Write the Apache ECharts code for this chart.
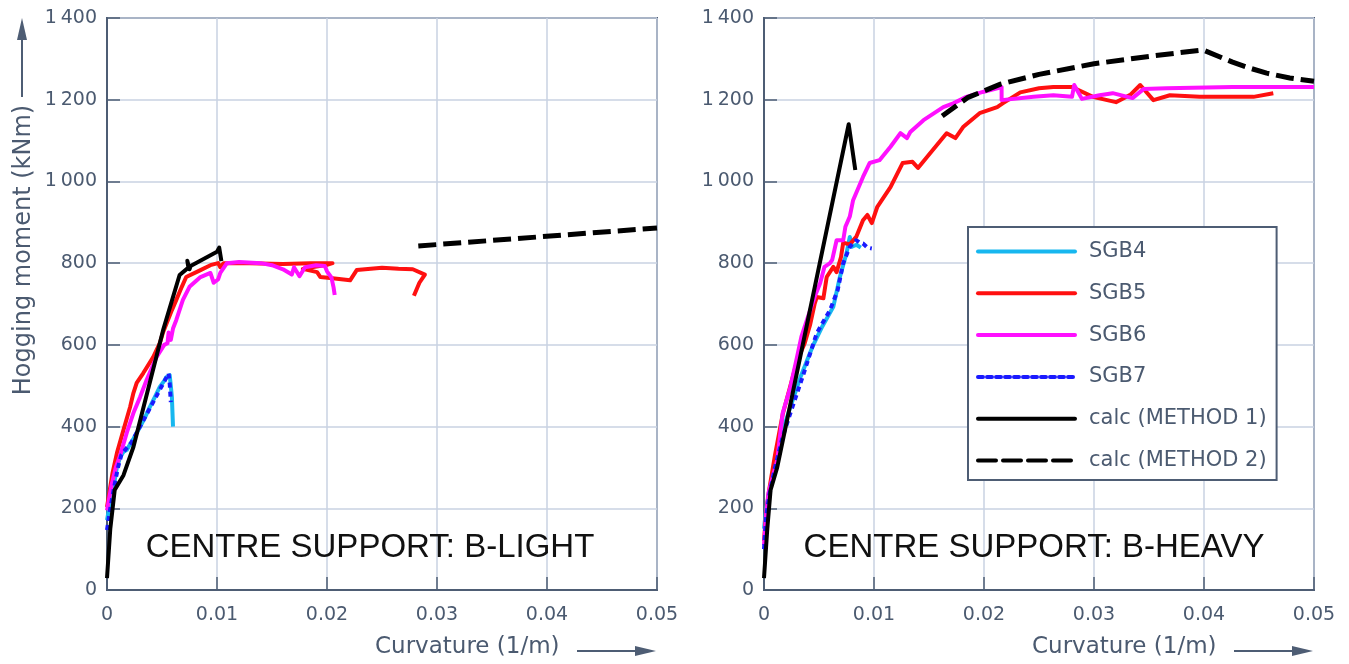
<!DOCTYPE html>
<html>
<head>
<meta charset="utf-8">
<title>Hogging moment vs curvature – centre support</title>
<script src="https://cdn.jsdelivr.net/npm/echarts@6/dist/echarts.min.js"></script>
<style>
  html, body { margin: 0; padding: 0; background: #fff; }
  #chart { width: 1349px; height: 664px; }
</style>
</head>
<body>
<div id="chart"></div>
<script>
// Tick values for both panels
const xTicks = [0, 0.01, 0.02, 0.03, 0.04, 0.05];
const yTicks = [0, 200, 400, 600, 800, 1000, 1200, 1400];

// Series names (legend order)
const seriesNames = ['SGB4', 'SGB5', 'SGB6', 'SGB7', 'calc (METHOD 1)', 'calc (METHOD 2)'];

// ---- Centre support B-LIGHT : [curvature (1/m), moment (kNm)] ----
const lightSGB4 = [[0,171],[0.0003,215],[0.0006,252],[0.0009,300],[0.0012,326],[0.0015,338],[0.0018,343],[0.0024,370],[0.003,399],[0.0035,425],[0.0039,448],[0.0044,475],[0.0048,497],[0.0052,512],[0.0054,521],[0.0057,526],[0.0058,500],[0.0059,472],[0.006,400]];
const lightSGB5 = [[0,203],[0.0005,286],[0.0009,335],[0.0015,392],[0.0021,448],[0.0024,482],[0.0027,507],[0.0033,531],[0.0042,570],[0.0048,604],[0.0051,631],[0.0059,685],[0.0063,710],[0.0068,742],[0.0072,766],[0.0085,783],[0.0094,795],[0.0101,800],[0.0103,790],[0.0106,800],[0.013,800],[0.016,798],[0.0185,800],[0.0205,800],[0.02,796],[0.0178,786],[0.0191,778],[0.0194,766],[0.0205,763],[0.0221,758],[0.0227,783],[0.025,789],[0.0265,786],[0.0278,785],[0.0289,772],[0.0284,752],[0.0279,720]];
const lightSGB6 = [[0,195],[0.0004,255],[0.0008,300],[0.0012,330],[0.0018,385],[0.0024,433],[0.003,472],[0.0036,514],[0.0045,570],[0.0052,600],[0.0055,604],[0.0056,630],[0.0058,612],[0.006,640],[0.0063,661],[0.0069,710],[0.0075,742],[0.0085,766],[0.0094,776],[0.0097,752],[0.0101,760],[0.0103,776],[0.0109,800],[0.012,803],[0.014,800],[0.015,795],[0.016,785],[0.0168,772],[0.017,790],[0.0175,768],[0.018,790],[0.019,795],[0.0198,793],[0.02,780],[0.0204,765],[0.0206,740],[0.0207,722]];
const lightSGB7 = [[0,147],[0.0003,200],[0.0006,245],[0.001,300],[0.0013,330],[0.0017,345],[0.0022,360],[0.0028,390],[0.0033,415],[0.0038,440],[0.0043,465],[0.0048,490],[0.0053,515],[0.0056,530],[0.0057,505],[0.0058,460]];
const lightCalc1 = [[0,29],[0.0003,150],[0.0007,245],[0.0015,281],[0.0024,350],[0.0051,636],[0.0066,771],[0.0074,789],[0.0073,806],[0.0075,785],[0.0076,793],[0.01,828],[0.0102,838],[0.0104,805]];
const lightCalc2 = [[0.0283,842],[0.05,886]];

// ---- Centre support B-HEAVY ----
const heavySGB4 = [[0,150],[0.0002,200],[0.0005,240],[0.001,310],[0.0017,390],[0.0024,448],[0.0033,520],[0.0044,595],[0.0053,645],[0.0063,693],[0.0069,766],[0.0075,824],[0.0078,864],[0.008,840],[0.0084,845],[0.0088,838]];
const heavySGB5 = [[0,120],[0.0002,190],[0.0005,250],[0.001,330],[0.0017,430],[0.0024,500],[0.003,560],[0.0037,604],[0.0042,650],[0.0046,700],[0.0048,717],[0.0054,714],[0.0057,766],[0.0063,791],[0.0066,778],[0.007,815],[0.0072,850],[0.0078,846],[0.0084,865],[0.009,905],[0.0094,918],[0.0098,898],[0.0103,938],[0.0115,986],[0.0126,1045],[0.0135,1048],[0.014,1033],[0.0151,1069],[0.0166,1118],[0.0174,1106],[0.0181,1133],[0.0196,1167],[0.0212,1182],[0.0217,1191],[0.0233,1218],[0.025,1228],[0.0263,1231],[0.028,1231],[0.0299,1207],[0.032,1194],[0.0333,1212],[0.0342,1236],[0.0354,1199],[0.0369,1211],[0.0396,1207],[0.0445,1207],[0.0463,1216]];
const heavySGB6 = [[0,110],[0.0002,185],[0.0004,237],[0.0012,318],[0.0017,433],[0.0024,497],[0.003,570],[0.0034,620],[0.0042,685],[0.0046,717],[0.0051,751],[0.0055,791],[0.006,800],[0.0062,808],[0.0066,856],[0.0072,856],[0.0074,889],[0.0078,914],[0.0081,954],[0.009,1011],[0.0096,1045],[0.0105,1052],[0.0115,1085],[0.0124,1118],[0.013,1106],[0.0133,1121],[0.0145,1150],[0.0163,1182],[0.0172,1191],[0.0184,1207],[0.0199,1219],[0.0212,1228],[0.0216,1231],[0.0216,1199],[0.0245,1207],[0.0263,1211],[0.028,1207],[0.0282,1236],[0.0289,1202],[0.0305,1211],[0.0317,1216],[0.0335,1204],[0.0345,1226],[0.0366,1228],[0.0426,1231],[0.05,1231]];
const heavySGB7 = [[0,100],[0.0002,180],[0.0005,235],[0.001,300],[0.0017,375],[0.0024,433],[0.0035,521],[0.0048,629],[0.006,685],[0.0067,734],[0.0072,800],[0.0078,840],[0.0084,856],[0.0087,850],[0.009,848],[0.0094,838],[0.0098,836]];
const heavyCalc1 = [[0,29],[0.0003,150],[0.0006,245],[0.0012,300],[0.0077,1140],[0.0083,1028]];
const heavyCalc2 = [[0.0162,1160],[0.0185,1205],[0.0215,1238],[0.025,1262],[0.03,1288],[0.035,1306],[0.0399,1322],[0.0426,1292],[0.0442,1277],[0.0457,1265],[0.0478,1253],[0.05,1245]];

const panelTitles = ['CENTRE SUPPORT: B-LIGHT', 'CENTRE SUPPORT: B-HEAVY'];

// Visual styles
const AXIS = '#4e5d74';
const GRIDLINE = '#c9d2e2';
const LABEL = '#4b5a70';
const styles = {
  'SGB4':            { color: '#17b7ef', width: 4, type: 'solid', z: 2 },
  'SGB5':            { color: '#ff1010', width: 4, type: 'solid', z: 3 },
  'SGB6':            { color: '#ff10ff', width: 4, type: 'solid', z: 4 },
  'SGB7':            { color: '#1a1aff', width: 4, type: [5, 4], z: 5 },
  'calc (METHOD 1)': { color: '#000000', width: 4, type: 'solid', z: 6 },
  'calc (METHOD 2)': { color: '#000000', width: 5, type: [18, 7], z: 6 }
};

const panels = [
  [lightSGB4, lightSGB5, lightSGB6, lightSGB7, lightCalc1, lightCalc2],
  [heavySGB4, heavySGB5, heavySGB6, heavySGB7, heavyCalc1, heavyCalc2]
];

const gridLefts = [107, 764];
const PLOT_TOP = 18, PLOT_W = 550, PLOT_H = 572;

function fmtY(v) {
  return v >= 1000 ? Math.floor(v / 1000) + '\u2009' + String(v % 1000).padStart(3, '0') : String(v);
}
function fmtX(v) {
  return String(+v.toFixed(2));
}

const grids = gridLefts.map(l => ({
  left: l, top: PLOT_TOP, width: PLOT_W, height: PLOT_H,
  show: true, borderColor: AXIS, borderWidth: 2, backgroundColor: '#fff'
}));

const xAxes = gridLefts.map((_, i) => ({
  type: 'value', gridIndex: i,
  min: xTicks[0], max: xTicks[xTicks.length - 1], interval: 0.01,
  axisLine: { show: true, lineStyle: { color: AXIS, width: 2 } },
  axisTick: { show: true, inside: true, length: 13, lineStyle: { color: AXIS, width: 1.5 } },
  splitLine: { show: true, lineStyle: { color: GRIDLINE, width: 1.5 } },
  axisLabel: { color: LABEL, fontSize: 19, fontFamily: 'DejaVu Sans', margin: 16, formatter: fmtX }
}));

const yAxes = gridLefts.map((_, i) => ({
  type: 'value', gridIndex: i,
  min: yTicks[0], max: yTicks[yTicks.length - 1], interval: 200,
  axisLine: { show: true, lineStyle: { color: AXIS, width: 2 } },
  axisTick: { show: true, inside: true, length: 13, lineStyle: { color: AXIS, width: 1.5 } },
  splitLine: { show: true, lineStyle: { color: GRIDLINE, width: 1.5 } },
  axisLabel: { color: LABEL, fontSize: 19, fontFamily: 'DejaVu Sans', margin: 10, formatter: fmtY }
}));

const series = [];
panels.forEach((sets, p) => {
  sets.forEach((data, k) => {
    const name = seriesNames[k];
    const s = styles[name];
    series.push({
      name, type: 'line', data,
      xAxisIndex: p, yAxisIndex: p,
      symbol: 'none', showSymbol: false, smooth: false, animation: false, z: s.z,
      lineStyle: { color: s.color, width: s.width, type: s.type, cap: 'butt', join: 'round' },
      itemStyle: { color: s.color }
    });
  });
});

// Axis titles, arrows and panel captions
const graphics = [];
gridLefts.forEach((l, i) => {
  // x-axis title with arrow
  graphics.push({
    type: 'text', left: l + 268, top: 636, z: 10,
    style: { text: 'Curvature (1/m)', fill: LABEL, font: '23px "DejaVu Sans"' }
  });
  graphics.push({
    type: 'line', z: 10,
    shape: { x1: l + 470, y1: 651, x2: l + 538, y2: 651 },
    style: { stroke: AXIS, lineWidth: 2 }
  });
  graphics.push({
    type: 'polygon', z: 10,
    shape: { points: [[l + 528, 646], [l + 549, 651], [l + 528, 656]] },
    style: { fill: AXIS }
  });
  // panel caption
  graphics.push({
    type: 'text', z: 10,
    x: l + 263 + (i === 1 ? 7 : 0), y: 548,
    style: { text: panelTitles[i], fill: '#111', font: '33px "Liberation Sans"', align: 'center', verticalAlign: 'middle' }
  });
});
// y-axis title with arrow (left panel only)
graphics.push({
  type: 'text', z: 10, x: 24, y: 250, rotation: Math.PI / 2,
  style: { text: 'Hogging moment (kNm)', fill: LABEL, font: '24px "DejaVu Sans"', align: 'center', verticalAlign: 'middle' }
});
graphics.push({
  type: 'line', z: 10,
  shape: { x1: 22, y1: 97, x2: 22, y2: 32 },
  style: { stroke: AXIS, lineWidth: 2 }
});
graphics.push({
  type: 'polygon', z: 10,
  shape: { points: [[17, 40], [22, 18], [27, 40]] },
  style: { fill: AXIS }
});

const chart = echarts.init(document.getElementById('chart'), null, { renderer: 'canvas', width: 1349, height: 664 });
chart.setOption({
  backgroundColor: '#fff',
  animation: false,
  grid: grids,
  xAxis: xAxes,
  yAxis: yAxes,
  legend: {
    data: seriesNames,
    orient: 'vertical',
    left: 968, top: 227,
    padding: [14, 10, 9, 8],
    itemWidth: 97, itemHeight: 14, itemGap: 20.8,
    backgroundColor: '#fff',
    borderColor: AXIS, borderWidth: 2,
    selectedMode: false,
    itemStyle: { color: 'rgba(0,0,0,0)', borderWidth: 0 },
    lineStyle: { width: 4, type: 'inherit', cap: 'round' },
    textStyle: { color: LABEL, fontSize: 21, fontFamily: 'DejaVu Sans', padding: [0, 0, 0, 9] }
  },
  series,
  graphic: graphics
});
</script>
</body>
</html>
